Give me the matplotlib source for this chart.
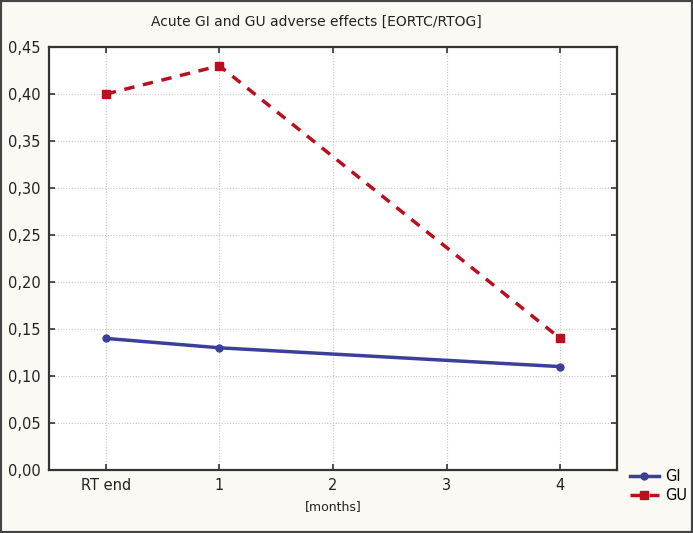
import matplotlib
matplotlib.use("Agg")
import matplotlib.pyplot as plt
from matplotlib.ticker import FuncFormatter
from matplotlib.patches import Rectangle

categories = ["RT end", "1", "2", "3", "4"]
gi_x = [0, 1, 4]
gi_y = [0.14, 0.13, 0.11]
gu_x = [0, 1, 4]
gu_y = [0.40, 0.43, 0.14]
y_ticks = [0.0, 0.05, 0.10, 0.15, 0.20, 0.25, 0.30, 0.35, 0.40, 0.45]

bg = "#fbf9f3"
fig = plt.figure(figsize=(6.93, 5.33), dpi=100, facecolor=bg)
ax = fig.add_axes([49 / 693, 1 - 470 / 533, (617 - 49) / 693, (470 - 47) / 533])
ax.set_facecolor("white")

ax.plot(gi_x, gi_y, color="#3b3f9a", lw=2.5, marker="o", ms=5, label="GI")
ax.plot(gu_x, gu_y, color="#b8101e", lw=2.5, ls=(0, (3, 2.5)), marker="s", ms=5.5, label="GU")

ax.set_xlim(-0.5, 4.5)
ax.set_ylim(0, 0.45)
ax.set_xticks(range(len(categories)))
ax.set_xticklabels(categories)
ax.set_yticks(y_ticks)
ax.yaxis.set_major_formatter(FuncFormatter(lambda v, p: f"{v:.2f}".replace(".", ",")))
ax.grid(True, color="#c8c8c8", ls=(0, (1, 1.5)), lw=0.8)
ax.tick_params(direction="in", length=4, width=1.2, color="#333333", labelsize=10.5,
               top=True, right=True, labelcolor="#222222", pad=6)
for s in ax.spines.values():
    s.set_color("#333333")
    s.set_linewidth(1.6)

ax.set_xlabel("[months]", fontsize=9, color="#222222", labelpad=5)
fig.text(316 / 693, 1 - 22 / 533, "Acute GI and GU adverse effects [EORTC/RTOG]",
         ha="center", va="center", fontsize=10, color="#222222")

fig.legend(loc="center left", bbox_to_anchor=(624 / 693, 1 - 486 / 533), frameon=False,
           fontsize=10.5, handlelength=2.0, handletextpad=0.4, labelspacing=0.3,
           borderaxespad=0)

fig.patches.append(Rectangle((0, 0), 1, 1, transform=fig.transFigure, fill=False,
                             edgecolor="#444444", lw=3))

fig.savefig("out.png", dpi=100, facecolor=bg)
